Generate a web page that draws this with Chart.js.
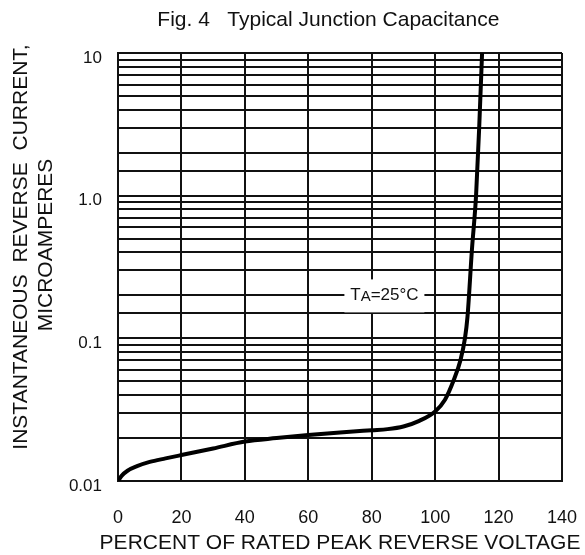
<!DOCTYPE html>
<html>
<head>
<meta charset="utf-8">
<script src="https://cdn.jsdelivr.net/npm/chart.js@4/dist/chart.umd.min.js"></script>
<style>
  html, body { margin: 0; padding: 0; background: #fff; }
  #wrap { width: 585px; height: 555px; }
</style>
</head>
<body>
<div id="wrap"><canvas id="c" width="585" height="555"></canvas></div>
<script>
// ---- data ----
const voltagePct = [0, 1.2, 3, 6, 10, 15, 20, 30, 40, 50, 60, 70, 80, 85, 90, 95, 100, 103.1, 105.9, 108.0, 109.4, 110.2, 111.6, 112.9, 113.9, 114.8];
const currentUA  = [0.0100, 0.0109, 0.0118, 0.0127, 0.0136, 0.0144, 0.0152, 0.0169, 0.0189, 0.0200, 0.0210, 0.0219, 0.0227, 0.0231, 0.0241, 0.0264, 0.0307, 0.0371, 0.0512, 0.0706, 0.100, 0.1416, 0.418, 1.0, 3.05, 10.0];
const xTicks = [0, 20, 40, 60, 80, 100, 120, 140];
const yTickLabels = { 0.01: '0.01', 0.1: '0.1', 1: '1.0', 10: '10' };
const chartTitle = 'Fig. 4   Typical Junction Capacitance';
const xAxisTitle = 'PERCENT OF RATED PEAK REVERSE VOLTAGE';
const yAxisTitle = ['INSTANTANEOUS  REVERSE  CURRENT,', 'MICROAMPERES'];
const annotationText = { main: 'T', sub: 'A', rest: '=25°C', x: 84, y: 0.2 };

const FONT = "'Liberation Sans', Arial, Helvetica, sans-serif";
const INK = '#111';

const points = voltagePct.map((v, i) => ({ x: v, y: currentUA[i] }));

const annotationPlugin = {
  id: 'taLabel',
  afterDatasetsDraw(chart) {
    const { ctx, scales } = chart;
    const cx = scales.x.getPixelForValue(annotationText.x);
    const cy = scales.y.getPixelForValue(annotationText.y);
    ctx.save();
    ctx.fillStyle = '#fff';
    ctx.fillRect(cx - 40, cy - 16, 80, 33);
    ctx.fillStyle = INK;
    ctx.textBaseline = 'middle';
    ctx.textAlign = 'left';
    const big = '17px ' + FONT, small = '15px ' + FONT;
    ctx.font = big; const w1 = ctx.measureText(annotationText.main).width;
    ctx.font = small; const w2 = ctx.measureText(annotationText.sub).width;
    ctx.font = big; const w3 = ctx.measureText(annotationText.rest).width;
    let x = cx - (w1 + w2 + w3) / 2;
    ctx.font = big; ctx.fillText(annotationText.main, x, cy); x += w1;
    ctx.font = small; ctx.fillText(annotationText.sub, x, cy + 1); x += w2;
    ctx.font = big; ctx.fillText(annotationText.rest, x, cy);
    ctx.restore();
  }
};

// axis titles drawn at their natural width (Chart.js would squeeze them to the axis length)
const axisTitlePlugin = {
  id: 'axisTitles',
  afterDraw(chart) {
    const { ctx, chartArea } = chart;
    ctx.save();
    ctx.fillStyle = INK;
    ctx.font = '21px ' + FONT;
    ctx.textAlign = 'center';
    ctx.textBaseline = 'middle';
    ctx.fillText(xAxisTitle, (chartArea.left + chartArea.right) / 2, 543);
    ctx.translate(0, 0);
    const yCenter = (chartArea.top + chartArea.bottom) / 2 - 20;
    ctx.save();
    ctx.translate(21, yCenter);
    ctx.rotate(-Math.PI / 2);
    ctx.fillText(yAxisTitle[0], 0, 0);
    ctx.restore();
    ctx.save();
    ctx.translate(46, yCenter - 2);
    ctx.rotate(-Math.PI / 2);
    ctx.fillText(yAxisTitle[1], 0, 0);
    ctx.restore();
    ctx.restore();
  }
};

new Chart(document.getElementById('c'), {
  type: 'line',
  data: {
    datasets: [{
      data: points,
      borderColor: '#000',
      borderWidth: 4,
      pointRadius: 0,
      fill: false,
      cubicInterpolationMode: 'monotone',
      tension: 0.4
    }]
  },
  options: {
    responsive: false,
    animation: false,
    layout: { padding: { left: 0, right: 23, top: 0, bottom: 0 } },
    plugins: {
      legend: { display: false },
      tooltip: { enabled: false },
      title: {
        display: true,
        fullSize: false,
        text: chartTitle + '    ',
        color: INK,
        font: { family: FONT, size: 21, weight: 'normal' },
        padding: { top: 8, bottom: 19.8 }
      }
    },
    scales: {
      x: {
        type: 'linear',
        min: 0, max: 140,
        afterBuildTicks(scale) { scale.ticks = xTicks.map(v => ({ value: v })); },
        afterFit(scale) { scale.height = 74; scale.paddingLeft = 0; scale.paddingRight = 0; },
        grid: { color: INK, lineWidth: 2, drawTicks: false },
        border: { color: INK, width: 2 },
        ticks: { color: INK, font: { family: FONT, size: 18 }, padding: 26, maxRotation: 0, autoSkip: false },
        title: { display: false, text: xAxisTitle }
      },
      y: {
        type: 'logarithmic',
        min: 0.01, max: 10,
        afterFit(scale) { scale.width = 118; },
        grid: { color: INK, lineWidth: 2, drawTicks: false },
        border: { color: INK, width: 2 },
        ticks: {
          color: INK,
          font: { family: FONT, size: 17 },
          padding: 16,
          labelOffset: 5,
          autoSkip: false,
          callback(v) {
            const key = Object.keys(yTickLabels).find(k => Math.abs(Math.log10(+k) - Math.log10(v)) < 1e-6);
            return key !== undefined ? yTickLabels[key] : '';
          }
        },
        title: { display: false, text: yAxisTitle }
      }
    }
  },
  plugins: [annotationPlugin, axisTitlePlugin]
});
</script>
</body>
</html>
